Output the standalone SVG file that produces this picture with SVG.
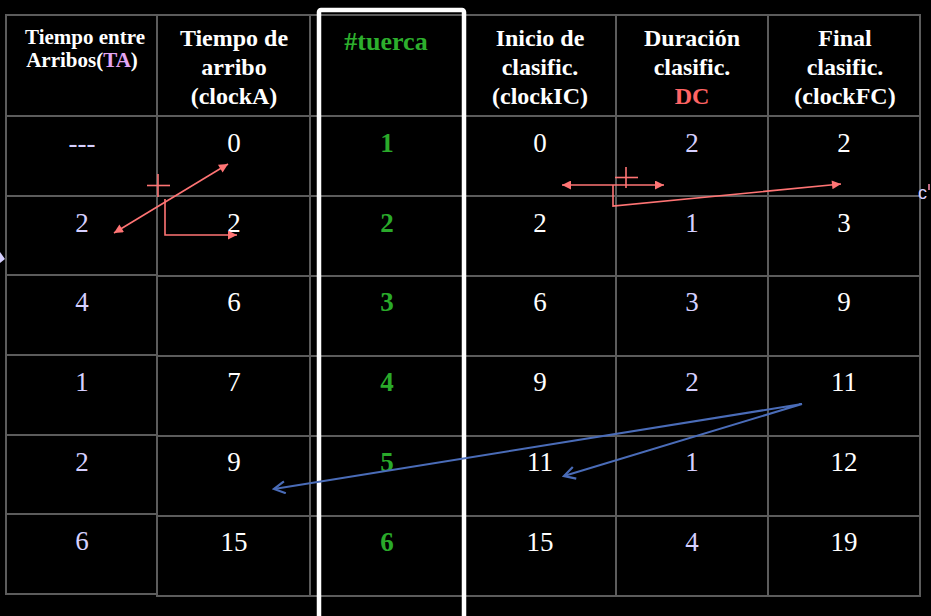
<svg xmlns="http://www.w3.org/2000/svg" width="931" height="616" viewBox="0 0 931 616">
<style>
  .grid { stroke: #5c5c5c; stroke-width: 2; fill: none; }
  .hd { font-family: "Liberation Serif", "Times New Roman", serif; font-weight: bold; font-size: 24px; fill: #ffffff; text-anchor: middle; }
  .hds { font-family: "Liberation Serif", "Times New Roman", serif; font-weight: bold; font-size: 21px; fill: #ffffff; text-anchor: middle; }
  .num { font-family: "Liberation Serif", "Times New Roman", serif; font-size: 27px; fill: #ffffff; text-anchor: middle; }
  .lav { fill: #d6d0ff; }
  .grn { fill: #2aaa2a; font-weight: bold; }
  .red { stroke: #ff7474; stroke-width: 1.6; fill: none; }
  .blue { stroke: #4a6cb8; stroke-width: 2; fill: none; }
</style>
<defs>
  <marker id="redHead" viewBox="0 0 10 10" refX="10" refY="5" markerWidth="13" markerHeight="9" markerUnits="userSpaceOnUse" orient="auto-start-reverse">
    <path d="M0,0 L10,5 L0,10 z" fill="#ff7474"/>
  </marker>
  <marker id="blueHead" viewBox="0 0 14 14" refX="12" refY="7" markerWidth="14" markerHeight="14" markerUnits="userSpaceOnUse" orient="auto-start-reverse">
    <path d="M1,1 L12,7 L1,13" fill="none" stroke="#4a6cb8" stroke-width="2.2"/>
  </marker>
</defs>
<rect x="0" y="0" width="931" height="616" fill="#000000"/>

<g id="grid">
  <rect class="grid" x="6" y="15" width="151" height="579"/>
  <line class="grid" x1="6" y1="116" x2="157" y2="116"/>
  <line class="grid" x1="6" y1="196" x2="157" y2="196"/>
  <line class="grid" x1="6" y1="275" x2="157" y2="275"/>
  <line class="grid" x1="6" y1="355" x2="157" y2="355"/>
  <line class="grid" x1="6" y1="435" x2="157" y2="435"/>
  <line class="grid" x1="6" y1="514" x2="157" y2="514"/>
  <rect class="grid" x="157" y="15" width="763" height="581"/>
  <line class="grid" x1="310" y1="15" x2="310" y2="596"/>
  <line class="grid" x1="465" y1="15" x2="465" y2="596"/>
  <line class="grid" x1="616" y1="15" x2="616" y2="596"/>
  <line class="grid" x1="768" y1="15" x2="768" y2="596"/>
  <line class="grid" x1="157" y1="116" x2="920" y2="116"/>
  <line class="grid" x1="157" y1="196" x2="920" y2="196"/>
  <line class="grid" x1="157" y1="276" x2="920" y2="276"/>
  <line class="grid" x1="157" y1="356" x2="920" y2="356"/>
  <line class="grid" x1="157" y1="436" x2="920" y2="436"/>
  <line class="grid" x1="157" y1="516" x2="920" y2="516"/>
</g>

<g id="col-ta">
  <text class="hds" x="85" y="44">Tiempo entre</text>
  <text class="hds" x="82" y="67">Arribos(<tspan fill="#e4a6f4">TA</tspan>)</text>
  <text class="num lav" x="82" y="152">---</text>
  <text class="num lav" x="82" y="232">2</text>
  <text class="num lav" x="82" y="311">4</text>
  <text class="num lav" x="82" y="391">1</text>
  <text class="num lav" x="82" y="471">2</text>
  <text class="num lav" x="82" y="550">6</text>
</g>

<g id="col-clockA">
  <text class="hd" x="234" y="46">Tiempo de</text>
  <text class="hd" x="234" y="75">arribo</text>
  <text class="hd" x="234" y="104">(clockA)</text>
  <text class="num" x="234" y="152">0</text>
  <text class="num" x="234" y="232">2</text>
  <text class="num" x="234" y="311">6</text>
  <text class="num" x="234" y="391">7</text>
  <text class="num" x="234" y="471">9</text>
  <text class="num" x="234" y="551">15</text>
</g>

<g id="col-tuerca">
  <text class="hd" x="386" y="50" style="font-size:26px;fill:#2daf2d">#tuerca</text>
  <text class="num grn" x="387" y="152">1</text>
  <text class="num grn" x="387" y="232">2</text>
  <text class="num grn" x="387" y="311">3</text>
  <text class="num grn" x="387" y="391">4</text>
  <text class="num grn" x="387" y="471">5</text>
  <text class="num grn" x="387" y="551">6</text>
</g>

<g id="col-clockIC">
  <text class="hd" x="540" y="46">Inicio de</text>
  <text class="hd" x="540" y="75">clasific.</text>
  <text class="hd" x="540" y="104">(clockIC)</text>
  <text class="num" x="540" y="152">0</text>
  <text class="num" x="540" y="232">2</text>
  <text class="num" x="540" y="311">6</text>
  <text class="num" x="540" y="391">9</text>
  <text class="num" x="540" y="471">11</text>
  <text class="num" x="540" y="551">15</text>
</g>

<g id="col-DC">
  <text class="hd" x="692" y="46">Duración</text>
  <text class="hd" x="692" y="75">clasific.</text>
  <text class="hd" x="692" y="104" style="fill:#ff6464">DC</text>
  <text class="num lav" x="692" y="152">2</text>
  <text class="num lav" x="692" y="232">1</text>
  <text class="num lav" x="692" y="311">3</text>
  <text class="num lav" x="692" y="391">2</text>
  <text class="num lav" x="692" y="471">1</text>
  <text class="num lav" x="692" y="551">4</text>
</g>

<g id="col-clockFC">
  <text class="hd" x="845" y="46">Final</text>
  <text class="hd" x="845" y="75">clasific.</text>
  <text class="hd" x="845" y="104">(clockFC)</text>
  <text class="num" x="844" y="152">2</text>
  <text class="num" x="844" y="232">3</text>
  <text class="num" x="844" y="311">9</text>
  <text class="num" x="844" y="391">11</text>
  <text class="num" x="844" y="471">12</text>
  <text class="num" x="844" y="551">19</text>
</g>

<g id="highlight">
  <rect x="319" y="10" width="145" height="620" rx="2" fill="none" stroke="#ffffff" stroke-width="4.5"/>
</g>

<g id="connectors">
  <line class="red" x1="114" y1="233" x2="228" y2="164" marker-start="url(#redHead)" marker-end="url(#redHead)"/>
  <line class="red" x1="147" y1="185.5" x2="170" y2="185.5"/>
  <line class="red" x1="158" y1="174" x2="158" y2="197"/>
  <polyline class="red" points="165,199 165,235 237,235" marker-end="url(#redHead)"/>

  <line class="red" x1="562" y1="185" x2="664" y2="185" marker-start="url(#redHead)" marker-end="url(#redHead)"/>
  <line class="red" x1="615" y1="177.5" x2="638" y2="177.5"/>
  <line class="red" x1="626" y1="167" x2="626" y2="188"/>
  <polyline class="red" points="613,185 613,206 841,184" marker-end="url(#redHead)"/>

  <polyline class="blue" points="274,489 802,404 564,476" marker-start="url(#blueHead)" marker-end="url(#blueHead)"/>
</g>

<g id="edge-fragments">
  <polygon points="0,252 5,259 0,263" fill="#d6d0ff"/>
  <text x="918" y="199" font-family="Liberation Sans, Arial, sans-serif" font-size="18" fill="#d6d0ff">c</text>
  <line x1="929" y1="184" x2="929" y2="190" stroke="#ff8fb0" stroke-width="1.5"/>
</g>
</svg>
